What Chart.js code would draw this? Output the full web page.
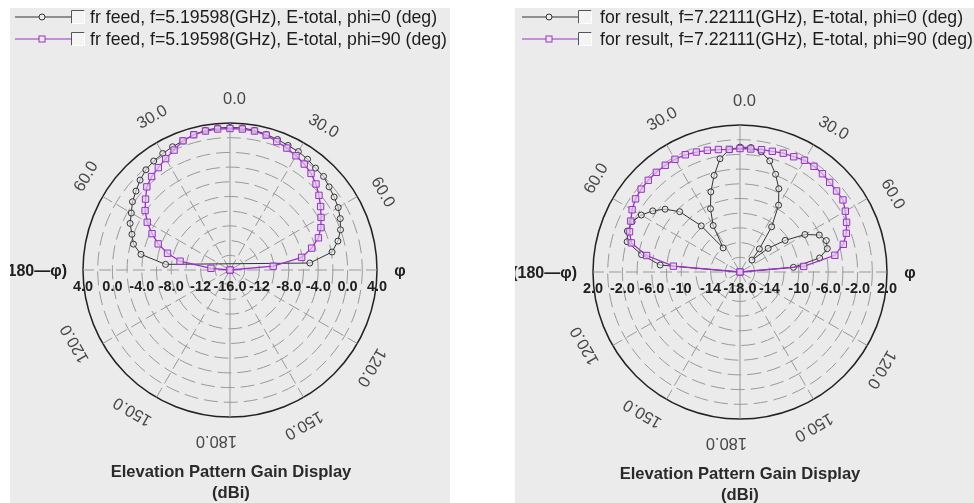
<!DOCTYPE html>
<html>
<head>
<meta charset="utf-8">
<script src="https://cdn.jsdelivr.net/npm/chart.js@4.4.1/dist/chart.umd.min.js"></script>
<style>
  body { margin: 0; width: 974px; height: 503px; overflow: hidden; background: #fff; font-family: "Liberation Sans", Arial, sans-serif; }
  .panel { position: absolute; top: 8px; height: 495px; background: #ebebeb; overflow: hidden; }
  .panel canvas { position: absolute; left: 0; top: 0; }
  .legsym { position: absolute; }
  .legtxt { position: absolute; font-size: 17.7px; line-height: 20px; color: #1c1c1c; white-space: nowrap; }
  .title { position: absolute; width: 300px; text-align: center; font-weight: bold; font-size: 16.6px; line-height: 21px; color: #2a2a2a; }
</style>
</head>
<body>

<div class="panel" style="left:10px;width:440px">
  <canvas id="feedChart" width="440" height="495"></canvas>
  <svg class="legsym" style="left:5px;top:1px" width="72" height="16">
    <line x1="0" y1="8" x2="56" y2="8" stroke="#333" stroke-width="1"/>
    <circle cx="27" cy="8" r="3" fill="#ebebeb" stroke="#333"/>
    <rect x="56.5" y="1.5" width="13" height="13" fill="#f4f4f4"/>
    <polyline points="56.5,14.5 56.5,1.5 69.5,1.5" fill="none" stroke="#555"/>
    <polyline points="69.5,1.5 69.5,14.5 56.5,14.5" fill="none" stroke="#fff"/>
  </svg>
  <div class="legtxt" style="left:80px;top:-1px">fr feed, f=5.19598(GHz), E-total, phi=0 (deg)</div>
  <svg class="legsym" style="left:5px;top:23px" width="72" height="16">
    <line x1="0" y1="8" x2="56" y2="8" stroke="#9b30c8" stroke-width="1.2"/>
    <rect x="24" y="5" width="6" height="6" fill="#ebebeb" stroke="#9b30c8"/>
    <rect x="56.5" y="1.5" width="13" height="13" fill="#f4f4f4"/>
    <polyline points="56.5,14.5 56.5,1.5 69.5,1.5" fill="none" stroke="#555"/>
    <polyline points="69.5,1.5 69.5,14.5 56.5,14.5" fill="none" stroke="#fff"/>
  </svg>
  <div class="legtxt" style="left:80px;top:21px">fr feed, f=5.19598(GHz), E-total, phi=90 (deg)</div>
  <div class="title" style="left:71px;top:453px">Elevation Pattern Gain Display<br>(dBi)</div>
</div>

<div class="panel" style="left:515px;width:459px">
  <canvas id="resultChart" width="459" height="495"></canvas>
  <svg class="legsym" style="left:7px;top:1px" width="72" height="16">
    <line x1="0" y1="8" x2="56" y2="8" stroke="#333" stroke-width="1"/>
    <circle cx="27" cy="8" r="3" fill="#ebebeb" stroke="#333"/>
    <rect x="56.5" y="1.5" width="13" height="13" fill="#f4f4f4"/>
    <polyline points="56.5,14.5 56.5,1.5 69.5,1.5" fill="none" stroke="#555"/>
    <polyline points="69.5,1.5 69.5,14.5 56.5,14.5" fill="none" stroke="#fff"/>
  </svg>
  <div class="legtxt" style="left:85px;top:-1px">for result, f=7.22111(GHz), E-total, phi=0 (deg)</div>
  <svg class="legsym" style="left:7px;top:23px" width="72" height="16">
    <line x1="0" y1="8" x2="56" y2="8" stroke="#9b30c8" stroke-width="1.2"/>
    <rect x="24" y="5" width="6" height="6" fill="#ebebeb" stroke="#9b30c8"/>
    <rect x="56.5" y="1.5" width="13" height="13" fill="#f4f4f4"/>
    <polyline points="56.5,14.5 56.5,1.5 69.5,1.5" fill="none" stroke="#555"/>
    <polyline points="69.5,1.5 69.5,14.5 56.5,14.5" fill="none" stroke="#fff"/>
  </svg>
  <div class="legtxt" style="left:85px;top:21px">for result, f=7.22111(GHz), E-total, phi=90 (deg)</div>
  <div class="title" style="left:75px;top:455px">Elevation Pattern Gain Display<br>(dBi)</div>
</div>

<script>
// elevation angle theta (deg), 0 = top, clockwise
const thetas = [-90, -85, -80, -75, -70, -65, -60, -55, -50, -45, -40, -35, -30, -25, -20, -15, -10, -5,
  0, 5, 10, 15, 20, 25, 30, 35, 40, 45, 50, 55, 60, 65, 70, 75, 80, 85, 90];

// gain (dBi) - fr feed, 5.19598 GHz
const feedPhi0 = [null, -7.2, -3.7, -2.4, -1.8, -1.0, -0.5, 0.2, 0.7, 1.3, 1.8, 2.1, 2.3, 2.5, 2.7, 3.05, 3.3, 3.4,
  3.4, 3.4, 3.3, 3.1, 2.9, 2.7, 2.6, 2.4, 2.1, 2.0, 1.6, 1.3, 1.0, 0.55, 0.0, -0.8, -1.9, -5.1, null];
const feedPhi90 = [-16, -13.4, -9.1, -7.2, -5.6, -4.3, -3.0, -1.9, -1.0, 0.0, 0.6, 1.0, 1.5, 2.0, 2.7, 3.05, 3.2, 3.25,
  3.25, 3.25, 3.2, 3.0, 2.6, 2.3, 1.95, 1.6, 1.15, 0.55, -0.2, -0.95, -1.7, -2.35, -3.2, -4.5, -6.1, -10.1, -16];

// gain (dBi) - for result, 7.22111 GHz
const resultPhi0 = [-18, -7.1, -4.4, -2.1, -1.7, -1.8, -2.5, -3.5, -4.7, -6.4, -9.8, -14.0, -10.7, -8.5, -6.4, -4.4, -2.35, -1.3,
  -1.0, -1.0, -1.4, -2.35, -3.85, -5.5, -7.5, -10.5, -13.9, -15.7, -13.0, -10.5, -7.8, -6.1, -5.5, -5.7, -7.0, -10.7, -18];
const resultPhi90 = [-18, -8.9, -5.1, -2.7, -2.0, -1.6, -1.05, -0.65, -0.45, -0.35, -0.3, -0.27, -0.3, -0.4, -0.63, -0.86, -1.08, -1.25,
  -1.2, -1.2, -1.1, -1.0, -0.8, -0.7, -0.45, -0.45, -0.55, -0.75, -0.85, -0.9, -1.45, -2.0, -2.6, -3.45, -4.9, -9.3, -18];

// angle labels round the circle
const angleTickDeg = [0, 30, 60, 120, 150, 180, 210, 240, 300, 330];
const angleTickText = ['0.0', '30.0', '60.0', '120.0', '150.0', '180.0', '150.0', '120.0', '60.0', '30.0'];

// gain tick labels along the horizontal diameter
const feedTickValues = [4, 0, -4, -8, -12];
const feedTickText = ['4.0', '0.0', '-4.0', '-8.0', '-12'];
const feedCenterText = '-16.0';
const resultTickValues = [2, -2, -6, -10, -14];
const resultTickText = ['2.0', '-2.0', '-6.0', '-10', '-14'];
const resultCenterText = '-18.0';

const radarLabels = [];
for (let a = 0; a < 360; a += 5) radarLabels.push(a);

function toRadar(values) {
  const out = radarLabels.map(() => null);
  thetas.forEach((t, i) => { out[((t + 360) % 360) / 5] = values[i]; });
  return out;
}

const polarText = {
  id: 'polarText',
  afterDraw(chart, args, opts) {
    const s = chart.scales.r;
    const ctx = chart.ctx;
    const cx = s.xCenter, cy = s.yCenter, R = s.drawingArea;
    ctx.save();
    // angle labels, written along the circle
    ctx.fillStyle = '#474747';
    ctx.font = '16.5px "Liberation Sans", Arial, sans-serif';
    ctx.textAlign = 'left';
    ctx.textBaseline = 'middle';
    angleTickDeg.forEach((a, i) => {
      const p = s.getPointPosition(a / 5, R + 24);
      ctx.save();
      ctx.translate(p.x, p.y);
      ctx.rotate(a * Math.PI / 180);
      ctx.fillText(angleTickText[i], -7, 0);
      ctx.restore();
    });
    // gain ticks on both sides of the centre
    ctx.fillStyle = '#202020';
    ctx.font = 'bold 14.5px "Liberation Sans", Arial, sans-serif';
    ctx.textAlign = 'center';
    const ty = cy + 17;
    opts.values.forEach((v, i) => {
      const d = s.getDistanceFromCenterForValue(v);
      ctx.fillText(opts.text[i], cx - d, ty);
      ctx.fillText(opts.text[i], cx + d, ty);
    });
    ctx.fillText(opts.center, cx, ty);
    // side labels
    ctx.font = 'bold 16px "Liberation Sans", Arial, sans-serif';
    ctx.textAlign = 'right';
    ctx.fillText('(180\u2014\u03c6)', cx - R - 16, cy + 2);
    ctx.textAlign = 'center';
    ctx.fillText('\u03c6', cx + R + 23, cy + 2);
    ctx.restore();
  }
};

function makeChart(id, phi0, phi90, min, max, padding, ticks) {
  new Chart(document.getElementById(id), {
    type: 'radar',
    data: {
      labels: radarLabels,
      datasets: [
        {
          label: 'phi=90',
          data: toRadar(phi90),
          borderColor: '#9b30c8',
          borderWidth: 1.3,
          pointStyle: 'rect',
          pointRadius: 4.5,
          pointBorderWidth: 1,
          pointBorderColor: '#9b30c8',
          pointBackgroundColor: 'rgba(225,205,235,0.7)',
          fill: false,
          spanGaps: true
        },
        {
          label: 'phi=0',
          data: toRadar(phi0),
          borderColor: '#333',
          borderWidth: 1,
          pointStyle: 'circle',
          pointRadius: 3,
          pointBorderWidth: 1,
          pointBorderColor: '#333',
          pointBackgroundColor: 'rgba(235,235,235,0.6)',
          fill: false,
          spanGaps: true
        }
      ]
    },
    options: {
      responsive: false,
      animation: false,
      layout: { padding: padding },
      plugins: {
        legend: { display: false },
        tooltip: { enabled: false },
        polarText: ticks
      },
      scales: {
        r: {
          min: min,
          max: max,
          ticks: { display: false, stepSize: 2 },
          pointLabels: { display: false },
          grid: {
            circular: true,
            color: c => (c.tick && c.tick.value === max) ? '#222' : '#999',
            lineWidth: c => (c.tick && c.tick.value === max) ? 1.5 : 1
          },
          border: {
            dash: c => (c.tick && c.tick.value === max) ? [] : [14, 6]
          },
          angleLines: {
            color: c => c.index % 6 === 0 ? '#999' : 'rgba(0,0,0,0)',
            borderDash: c => c.index % 36 === 0 ? [] : [12, 5]
          }
        }
      }
    },
    plugins: [polarText]
  });
}

makeChart('feedChart', feedPhi0, feedPhi90, -16, 4,
  { left: 73, right: 73, top: 115, bottom: 86 },
  { values: feedTickValues, text: feedTickText, center: feedCenterText });

makeChart('resultChart', resultPhi0, resultPhi90, -18, 2,
  { left: 78, right: 87, top: 117, bottom: 84 },
  { values: resultTickValues, text: resultTickText, center: resultCenterText });
</script>
</body>
</html>
